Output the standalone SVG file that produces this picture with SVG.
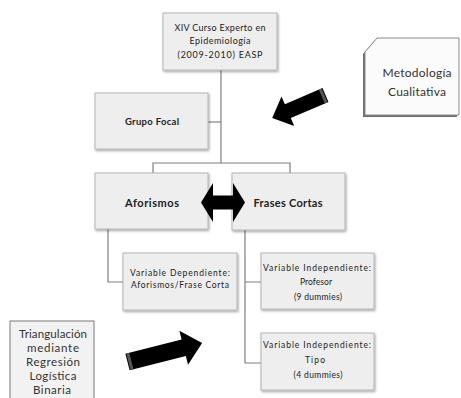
<svg xmlns="http://www.w3.org/2000/svg" width="461" height="398" viewBox="0 0 461 398">
<defs>
<filter id="sh" x="-10%" y="-10%" width="130%" height="130%">
<feDropShadow dx="1" dy="1.5" stdDeviation="0.9" flood-color="#000" flood-opacity="0.35"/>
</filter>
</defs>
<style>
.box{fill:#eeeeee;stroke:#b4b4b4;stroke-width:1;filter:url(#sh)}
.ln{fill:none;stroke:#7f7f7f;stroke-width:1.2}
text{font-family:Lato,"Open Sans","Liberation Sans",sans-serif;fill:#222;text-anchor:middle}
.s{font-size:8.5px}
.m{font-size:9px}
.b{font-weight:bold}
.g{fill:#333}
.arw{fill:#000}
</style>
<rect width="461" height="398" fill="#fff"/>
<g id="connectors">
<path class="ln" d="M221,70 V163"/>
<path class="ln" d="M208,122 H221"/>
<path class="ln" d="M153,173 V163 H290 V173"/>
<path class="ln" d="M108,229 V282 H123"/>
<path class="ln" d="M245,230 V363 H261 M245,282 H261"/>
</g>
<g id="node-curso">
<rect class="box" x="163" y="13" width="114" height="57"/>
<text class="m" x="220" y="31" textLength="91" lengthAdjust="spacing">XIV Curso Experto en</text>
<text class="m" x="220" y="44" textLength="61" lengthAdjust="spacing">Epidemiología</text>
<text class="m" x="220" y="58" textLength="85" lengthAdjust="spacing">(2009-2010)  EASP</text>
</g>
<g id="node-metodologia">
<path d="M375,40 L457,40 L457,117 L363,117 L363,54 Z" fill="#6e6e6e"/>
<path d="M377,38 L459,38 L459,115 L365,115 L365,52 Z" fill="#fbfbfb" stroke="#8a8a8a" stroke-width="1"/>
<text class="g" x="417" y="77" style="font-size:12px" textLength="69" lengthAdjust="spacing">Metodología</text>
<text class="g" x="417" y="96" style="font-size:12px" textLength="58" lengthAdjust="spacing">Cualitativa</text>
</g>
<g id="node-grupo-focal">
<rect class="box" x="95" y="93" width="113" height="56"/>
<text class="b" x="152" y="125" style="font-size:9.5px" textLength="54" lengthAdjust="spacing">Grupo Focal</text>
</g>
<g id="node-aforismos">
<rect class="box" x="95" y="173" width="113" height="56"/>
<text class="b" x="152" y="207" style="font-size:11px" textLength="54" lengthAdjust="spacing">Aforismos</text>
</g>
<g id="node-frases">
<rect class="box" x="232" y="173" width="113" height="57"/>
<text class="b" x="288" y="207" style="font-size:11px" textLength="69" lengthAdjust="spacing">Frases Cortas</text>
</g>
<g id="node-var-dep">
<rect class="box" x="123" y="253" width="114" height="57"/>
<text class="s" x="180" y="276" textLength="100" lengthAdjust="spacing">Variable Dependiente:</text>
<text class="s" x="180" y="288" textLength="98" lengthAdjust="spacing">Aforismos/Frase Corta</text>
</g>
<g id="node-var-prof">
<rect class="box" x="261" y="253" width="113" height="56"/>
<text class="s" x="317" y="271" textLength="108" lengthAdjust="spacing">Variable  Independiente:</text>
<text class="s" x="316" y="285" textLength="32" lengthAdjust="spacing">Profesor</text>
<text class="s" x="318" y="300" textLength="48" lengthAdjust="spacing">(9 dummies)</text>
</g>
<g id="node-var-tipo">
<rect class="box" x="261" y="333" width="113" height="57"/>
<text class="s" x="317" y="348" textLength="108" lengthAdjust="spacing">Variable  Independiente:</text>
<text class="s" x="315" y="363" textLength="20" lengthAdjust="spacing">Tipo</text>
<text class="s" x="318" y="378" textLength="49" lengthAdjust="spacing">(4 dummies)</text>
</g>
<g id="node-triangulacion">
<rect x="10" y="321" width="84" height="85" fill="#f2f2f2" stroke="#7a7a7a" stroke-width="1"/>
<text class="g" x="53" y="338" style="font-size:11.5px" textLength="68" lengthAdjust="spacing">Triangulación</text>
<text class="g" x="53" y="352" style="font-size:11.5px" textLength="52" lengthAdjust="spacing">mediante</text>
<text class="g" x="53" y="366" style="font-size:11.5px" textLength="54" lengthAdjust="spacing">Regresión</text>
<text class="g" x="53" y="380" style="font-size:11.5px" textLength="47" lengthAdjust="spacing">Logística</text>
<text class="g" x="52" y="394" style="font-size:11.5px" textLength="38" lengthAdjust="spacing">Binaria</text>
</g>
<g id="arrow-upper" transform="translate(325.5,95) rotate(156.7)">
<path class="arw" d="M0,-7.5 L41,-7.5 L41,-16 L58,0 L41,16 L41,7.5 L0,7.5 Z"/>
<rect x="1" y="-7.5" width="3" height="15" fill="#555"/>
</g>
<g id="arrow-lower" transform="translate(127.5,362) rotate(-14.3)">
<path class="arw" d="M0,-8.5 L58,-8.5 L58,-17.5 L77,0 L58,17.5 L58,8.5 L0,8.5 Z"/>
<rect x="1" y="-8.5" width="3" height="17" fill="#555"/>
</g>
<g id="arrow-double">
<path class="arw" d="M201,202.5 L213,183 L213,195.5 L233,195.5 L233,183 L245,202.5 L233,222 L233,209.5 L213,209.5 L213,222 Z"/>
</g>
</svg>
